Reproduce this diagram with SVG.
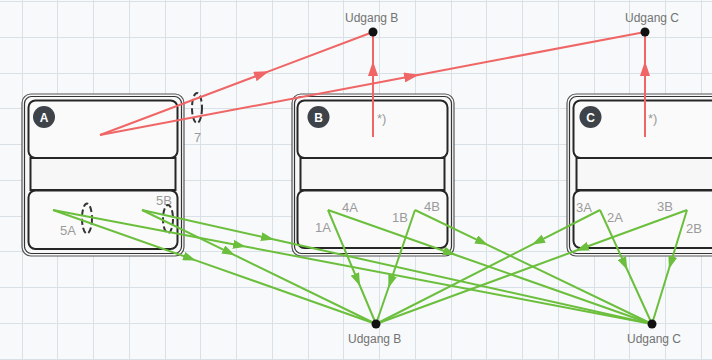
<svg xmlns="http://www.w3.org/2000/svg" width="712" height="360" viewBox="0 0 712 360">
<style>
.grid{stroke:#d9e1e8;stroke-width:1;fill:none}
.outer{fill:#f8f8f8;stroke:#555;stroke-width:1.2}
.inner{fill:none;stroke:#333;stroke-width:1.2}
.panel{fill:#fafafa;stroke:#262626;stroke-width:2}
.band{fill:#f7f7f7;stroke:#262626;stroke-width:2}
.badge{fill:#3d4349}
.badgetxt{font-family:"Liberation Sans",Arial,sans-serif;font-weight:bold;font-size:12px;fill:#fff;text-anchor:middle}
.lbl{font-family:"Liberation Sans",Arial,sans-serif;font-size:13px;fill:#9a9a9a}
.out{font-family:"Liberation Sans",Arial,sans-serif;font-size:12px;fill:#737373}
.dash{fill:none;stroke:#333;stroke-width:2;stroke-dasharray:6 3}
.g{fill:none;stroke:#6bbf3c;stroke-width:2;marker-mid:url(#ag)}
.r{fill:none;stroke:#f06565;stroke-width:2;marker-mid:url(#ar)}
.dot{fill:#111}
</style>
<defs>
<marker id="ag" markerUnits="userSpaceOnUse" markerWidth="13" markerHeight="9" viewBox="0 0 13 9" refX="12" refY="4.5" orient="auto"><path d="M0,0 L13,4.5 L0,9 z" fill="#6bbf3c"/></marker>
<marker id="ar" markerUnits="userSpaceOnUse" markerWidth="15" markerHeight="10" viewBox="0 0 15 10" refX="14" refY="5" orient="auto"><path d="M0,0 L15,5 L0,10 z" fill="#f06565"/></marker>
</defs>
<rect x="0" y="0" width="712" height="360" fill="#f7f9fa"/>
<path class="grid" d="M22.5,0V360M57.5,0V360M93.5,0V360M129.5,0V360M165.5,0V360M200.5,0V360M236.5,0V360M272.5,0V360M308.5,0V360M343.5,0V360M379.5,0V360M415.5,0V360M451.5,0V360M486.5,0V360M522.5,0V360M558.5,0V360M594.5,0V360M629.5,0V360M665.5,0V360M701.5,0V360M0,1.5H712M0,37.5H712M0,73.5H712M0,108.5H712M0,144.5H712M0,180.5H712M0,216.5H712M0,251.5H712M0,287.5H712M0,323.5H712M0,359.5H712"/>

<g id="nodeA">
<rect class="outer" x="22" y="94" width="162" height="162" rx="9"/>
<rect class="inner" x="24.5" y="96.5" width="157" height="157" rx="7"/>
<rect class="band" x="30.5" y="158" width="145" height="32"/>
<rect class="panel" x="28.5" y="100.5" width="149" height="57.5" rx="7"/>
<rect class="panel" x="28.5" y="190.5" width="149" height="58.5" rx="7"/>
<circle class="badge" cx="44" cy="117" r="11"/>
<text class="badgetxt" x="44" y="121.5">A</text>
<text class="lbl" x="60" y="235">5A</text>
<text class="lbl" x="156" y="205">5B</text>
</g>

<g id="nodeB">
<rect class="outer" x="292" y="94" width="162" height="162" rx="9"/>
<rect class="inner" x="294.5" y="96.5" width="157" height="157" rx="7"/>
<rect class="band" x="300.5" y="158" width="144" height="32"/>
<rect class="panel" x="297.5" y="100.5" width="150" height="57.5" rx="7"/>
<rect class="panel" x="297.5" y="190.5" width="150" height="57.5" rx="7"/>
<circle class="badge" cx="318.5" cy="117" r="11"/>
<text class="badgetxt" x="318.5" y="121.5">B</text>
<text class="lbl" x="377" y="123">*)</text>
<text class="lbl" x="315" y="232">1A</text>
<text class="lbl" x="342" y="212">4A</text>
<text class="lbl" x="392" y="222">1B</text>
<text class="lbl" x="424" y="211">4B</text>
</g>

<g id="nodeC">
<rect class="outer" x="567" y="94" width="162" height="162" rx="9"/>
<rect class="inner" x="569.5" y="96.5" width="157" height="157" rx="7"/>
<rect class="band" x="576.5" y="158" width="144" height="32"/>
<rect class="panel" x="573.5" y="100.5" width="150" height="57.5" rx="7"/>
<rect class="panel" x="573.5" y="190.5" width="150" height="57.5" rx="7"/>
<circle class="badge" cx="590.5" cy="117" r="11"/>
<text class="badgetxt" x="590.5" y="121.5">C</text>
<text class="lbl" x="648" y="123">*)</text>
<text class="lbl" x="576" y="212">3A</text>
<text class="lbl" x="607" y="222">2A</text>
<text class="lbl" x="657" y="211">3B</text>
<text class="lbl" x="686" y="233">2B</text>
</g>

<g id="annotations">
<ellipse class="dash" cx="87" cy="218.5" rx="5" ry="15"/>
<ellipse class="dash" cx="168" cy="219" rx="5" ry="14"/>
<ellipse class="dash" cx="197" cy="108" rx="5" ry="15"/>
<text class="lbl" x="194" y="142">7</text>
</g>

<g id="connectors">
<polyline class="g" points="53,210 195,260.1 376,324"/>
<polyline class="g" points="53,210 245,246.5 652,324"/>
<polyline class="g" points="142,210 234,254.8 376,324"/>
<polyline class="g" points="142,210 273,239.3 652,324"/>
<polyline class="g" points="328,210 359.6,285 376,324"/>
<polyline class="g" points="328,210 455,254.7 652,324"/>
<polyline class="g" points="415,210 388.7,287 376,324"/>
<polyline class="g" points="415,210 487,244.6 652,324"/>
<polyline class="g" points="600,210 533,244.1 376,324"/>
<polyline class="g" points="600,210 626.9,269 652,324"/>
<polyline class="g" points="687,210 577,250.3 376,324"/>
<polyline class="g" points="687,210 669.2,268 652,324"/>
<polyline class="r" points="100,135 268,71.6 373,32"/>
<polyline class="r" points="100,135 418,74.9 645,32"/>
<polyline class="r" points="373,137 373,62 373,32"/>
<polyline class="r" points="645,137 645,62 645,32"/>
</g>

<g id="udgangB-top"><circle class="dot" cx="373" cy="32" r="4.5"/><text class="out" x="345" y="22">Udgang B</text></g>
<g id="udgangC-top"><circle class="dot" cx="645" cy="32" r="4.5"/><text class="out" x="625" y="22">Udgang C</text></g>
<g id="udgangB-bottom"><circle class="dot" cx="376" cy="324" r="4.5"/><text class="out" x="348" y="343">Udgang B</text></g>
<g id="udgangC-bottom"><circle class="dot" cx="652" cy="324" r="4.5"/><text class="out" x="627" y="343">Udgang C</text></g>
</svg>
